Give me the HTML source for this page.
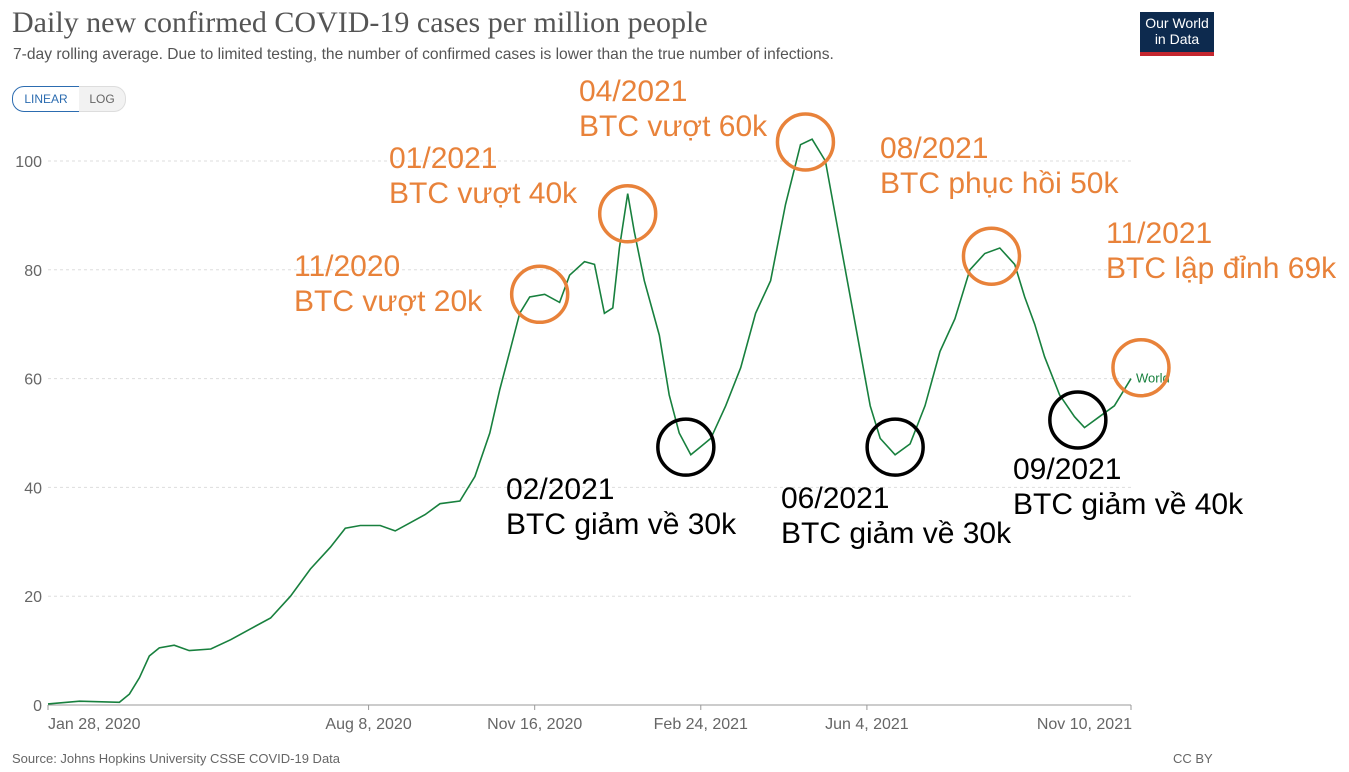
<!DOCTYPE html>
<html><head><meta charset="utf-8">
<style>
body{margin:0;width:1349px;height:772px;background:#fff;position:relative;overflow:hidden;font-family:"Liberation Sans",sans-serif}
.abs{position:absolute;margin:0}
.ann{position:absolute;font-size:30px;line-height:35px;white-space:nowrap}
.or{color:#e8823a}.bk{color:#000}
</style></head><body>
<div class="abs" style="left:12px;top:6px;font-family:'Liberation Serif',serif;font-size:30px;color:#555">Daily new confirmed COVID-19 cases per million people</div>
<div class="abs" style="left:13px;top:46px;font-size:15.6px;color:#555">7-day rolling average. Due to limited testing, the number of confirmed cases is lower than the true number of infections.</div>
<div class="abs" style="left:1140px;top:12px;width:74px;height:44px;background:#0d2a4e;color:#fff;font-size:14px;line-height:16px;text-align:center;padding-top:3px;box-sizing:border-box;border-bottom:4px solid #c4262e">Our World<br>in Data</div>
<div class="abs" style="left:12px;top:86px;width:66px;height:24px;border:1px solid #2c6cb0;border-radius:12px 0 0 12px;color:#2c6cb0;font-size:12px;line-height:24px;text-align:center">LINEAR</div>
<div class="abs" style="left:79px;top:86px;width:46px;height:24px;border:1px solid #ddd;border-left:none;border-radius:0 12px 12px 0;background:#f2f2f2;color:#666;font-size:12px;line-height:24px;text-align:center">LOG</div>
<svg id="chart" class="abs" style="left:0;top:0" width="1349" height="772"></svg>
<div class="abs" style="left:12px;top:751px;font-size:13px;color:#666">Source: Johns Hopkins University CSSE COVID-19 Data</div>
<div class="abs" style="left:1173px;top:751px;font-size:13px;color:#666">CC BY</div>
<div class="ann or" style="left:294px;top:249px">11/2020<br>BTC vượt 20k</div>
<div class="ann or" style="left:389px;top:141px">01/2021<br>BTC vượt 40k</div>
<div class="ann or" style="left:579px;top:74px">04/2021<br>BTC vượt 60k</div>
<div class="ann or" style="left:880px;top:131px">08/2021<br>BTC phục hồi 50k</div>
<div class="ann or" style="left:1106px;top:216px">11/2021<br>BTC lập đỉnh 69k</div>
<div class="ann bk" style="left:506px;top:472px">02/2021<br>BTC giảm về 30k</div>
<div class="ann bk" style="left:781px;top:481px">06/2021<br>BTC giảm về 30k</div>
<div class="ann bk" style="left:1013px;top:452px">09/2021<br>BTC giảm về 40k</div>
<script>
const dayIndex=[0,19,43,49,55,61,67,76,85,98,110,122,134,146,158,170,179,188,200,209,218,227,236,248,257,266,272,278,284,290,299,308,314,323,329,335,340,344,349,353,359,368,374,380,387,393,399,408,417,426,435,444,453,460,468,477,486,495,501,510,519,528,537,546,555,564,573,582,588,594,600,609,618,624,633,642,652];
const casesPerMillion=[0.2,0.7,0.5,2,5,9,10.5,11,10,10.3,12,14,16,20,25,29,32.5,33,33,32,33.5,35,37,37.5,42,50,58,65,72,75,75.5,74,79,81.5,81,72,73,84,94,87,78,68,57,50,46,47.5,49,55,62,72,78,92,103,104,100,85,70,55,49,46,48,55,65,71,80,83,84,81,75,70,64,57,53,51,53,55,60];
const yTicks=[0,20,40,60,80,100];
const xTickDays=[0,193,293,393,493,652];
const xTickLabels=["Jan 28, 2020","Aug 8, 2020","Nov 16, 2020","Feb 24, 2021","Jun 4, 2021","Nov 10, 2021"];
const circles=[{d:296,v:75.5,c:"#e8823a"},{d:349,v:90.3,c:"#e8823a"},{d:456,v:103.5,c:"#e8823a"},{d:568,v:82.5,c:"#e8823a"},{d:658,v:62,c:"#e8823a"},{d:384,v:47.4,c:"#000"},{d:510,v:47.4,c:"#000"},{d:620,v:52.4,c:"#000"}];
const NS="http://www.w3.org/2000/svg",svg=document.getElementById('chart');
const x=d=>48+d*(1083/652), y=v=>705-v*5.44;
function mk(t,a){const e=document.createElementNS(NS,t);for(const k in a)e.setAttribute(k,a[k]);svg.appendChild(e);return e;}
yTicks.forEach(v=>{
 const l=mk('line',{x1:48,x2:1131,y1:y(v),y2:y(v),stroke:v?'#ddd':'#999','stroke-dasharray':v?'3,3':'none'});
 
 
 const t=mk('text',{x:42,y:y(v)+6,'text-anchor':'end','font-size':16,fill:'#666','font-family':'Liberation Sans,sans-serif'});t.textContent=v;
 
 
});
xTickDays.forEach((d,i)=>{
 const tk=mk('line',{x1:x(d),x2:x(d),y1:705,y2:710,stroke:'#999'});
 
 
 const t=mk('text',{x:i==0?48:i==5?1132:x(d),y:729,'text-anchor':i==0?'start':i==5?'end':'middle','font-size':16,fill:'#666','font-family':'Liberation Sans,sans-serif'});t.textContent=xTickLabels[i];
 
 
});
const p=mk('path',{d:dayIndex.map((d,i)=>(i?'L':'M')+x(d).toFixed(1)+','+y(casesPerMillion[i]).toFixed(1)).join(''),fill:'none',stroke:'#18803e','stroke-width':1.6});


const lb=mk('text',{x:1136,y:y(casesPerMillion[casesPerMillion.length-1])+4,'font-size':13,fill:'#18803e','font-family':'Liberation Sans,sans-serif'});lb.textContent='World';


circles.forEach(c=>{
 const e=mk('circle',{cx:x(c.d),cy:y(c.v),r:28,fill:'none',stroke:c.c,'stroke-width':3.5});
 
 
});
</script>
</body></html>
